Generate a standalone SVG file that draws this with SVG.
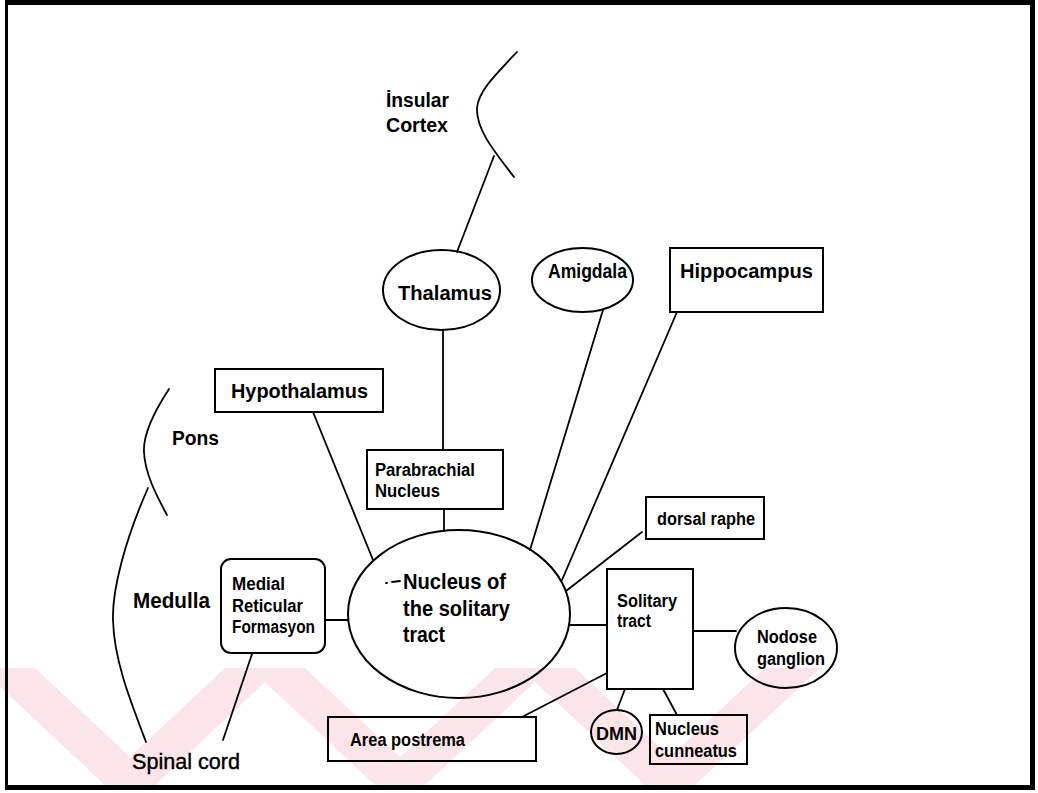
<svg xmlns="http://www.w3.org/2000/svg" width="1038" height="793" viewBox="0 0 1038 793">
<defs>
<style>
.bg{fill:#ffffff}
.wm{fill:#fce5e8}
.shape{fill:none;stroke:#000;stroke-width:2}
.line{fill:none;stroke:#000;stroke-width:1.8;stroke-linecap:round}
.frame{fill:#000}
text{font-family:"Liberation Sans",Arial,sans-serif;fill:#000}
.big{font-size:20px;font-weight:bold}
.nts{font-size:21.5px;font-weight:bold}
.small{font-size:17.5px;font-weight:bold}
.reg{font-size:21.5px;font-weight:normal;stroke:#000;stroke-width:0.4}
</style>
</defs>
<rect class="bg" x="0" y="0" width="1038" height="793"/>
<g id="watermark">
<polygon class="wm" points="-20,668 35,668 130,757 225,668 280,668 155,785 105,785"/>
<polygon class="wm" points="250,668 305,668 400,757 495,668 550,668 425,785 375,785"/>
<polygon class="wm" points="520,668 575,668 670,757 765,668 820,668 695,785 645,785"/>
</g>
<g id="connectors">
<path class="line" d="M457,252 L494,156"/>
<path class="line" d="M443,331 L443,450"/>
<path class="line" d="M444,509 L444,531"/>
<path class="line" d="M313,412 L373,560"/>
<path class="line" d="M603,310 L530,550"/>
<path class="line" d="M677,312 L562,580"/>
<path class="line" d="M642,532 L566,591"/>
<path class="line" d="M570,625 L607,625"/>
<path class="line" d="M693,631 L736,631"/>
<path class="line" d="M625,689 L617,710"/>
<path class="line" d="M663,689 L677,715"/>
<path class="line" d="M607,673 L522,717"/>
<path class="line" d="M325,620 L348,620"/>
<path class="line" d="M252,654 L223,740"/>
</g>
<g id="insular-cortex">
<path class="line" d="M517,52 C495,75 478,92 477,108 C476,130 495,152 514,177"/>
<text class="big" x="386" y="107" textLength="63" lengthAdjust="spacingAndGlyphs">İnsular</text>
<text class="big" x="386" y="132" textLength="62" lengthAdjust="spacingAndGlyphs">Cortex</text>
</g>
<g id="pons">
<path class="line" d="M169,389 C152,415 143,435 144,452 C145,475 158,498 167,515"/>
<text class="big" x="172" y="445" textLength="47" lengthAdjust="spacingAndGlyphs">Pons</text>
</g>
<g id="medulla">
<path class="line" d="M148,488 C125,540 112,590 113,620 C114,660 130,700 146,742"/>
<text class="nts" x="133" y="608" textLength="77" lengthAdjust="spacingAndGlyphs">Medulla</text>
</g>
<g id="spinal-cord">
<text class="reg" x="132" y="769" textLength="108" lengthAdjust="spacingAndGlyphs">Spinal cord</text>
</g>
<g id="thalamus">
<ellipse class="shape" cx="441.5" cy="290" rx="58.5" ry="40"/>
<text class="big" x="398" y="300" textLength="94" lengthAdjust="spacingAndGlyphs">Thalamus</text>
</g>
<g id="amigdala">
<ellipse class="shape" cx="582.5" cy="280" rx="50.5" ry="32"/>
<text class="big" x="548" y="278" textLength="79" lengthAdjust="spacingAndGlyphs">Amigdala</text>
</g>
<g id="hippocampus">
<rect class="shape" x="670" y="248" width="153" height="64"/>
<text class="big" x="680" y="278" textLength="133" lengthAdjust="spacingAndGlyphs">Hippocampus</text>
</g>
<g id="hypothalamus">
<rect class="shape" x="215" y="369" width="168" height="43"/>
<text class="big" x="231" y="398" textLength="137" lengthAdjust="spacingAndGlyphs">Hypothalamus</text>
</g>
<g id="parabrachial">
<rect class="shape" x="367" y="450" width="136" height="59"/>
<text class="small" x="375" y="476" textLength="100" lengthAdjust="spacingAndGlyphs">Parabrachial</text>
<text class="small" x="375" y="497" textLength="65" lengthAdjust="spacingAndGlyphs">Nucleus</text>
</g>
<g id="dorsal-raphe">
<rect class="shape" x="646" y="497" width="118" height="42"/>
<text class="small" x="657" y="525" textLength="98" lengthAdjust="spacingAndGlyphs">dorsal raphe</text>
</g>
<g id="medial-reticular-formasyon">
<rect class="shape" x="221" y="559" width="104" height="94" rx="10" ry="10"/>
<text class="small" x="232" y="590" textLength="53" lengthAdjust="spacingAndGlyphs">Medial</text>
<text class="small" x="232" y="612" textLength="71" lengthAdjust="spacingAndGlyphs">Reticular</text>
<text class="small" x="232" y="633" textLength="83" lengthAdjust="spacingAndGlyphs">Formasyon</text>
</g>
<g id="nucleus-solitary-tract">
<ellipse class="shape" cx="459" cy="614" rx="111" ry="84"/>
<path class="line" d="M386,583 L387,583 M392,582 L400,581" stroke-width="1.2"/>
<text class="nts" x="403" y="589" textLength="103" lengthAdjust="spacingAndGlyphs">Nucleus of</text>
<text class="nts" x="403" y="616" textLength="107" lengthAdjust="spacingAndGlyphs">the solitary</text>
<text class="nts" x="403" y="642" textLength="42" lengthAdjust="spacingAndGlyphs">tract</text>
</g>
<g id="solitary-tract">
<rect class="shape" x="607" y="569" width="86" height="120"/>
<text class="small" x="617" y="607" textLength="60" lengthAdjust="spacingAndGlyphs">Solitary</text>
<text class="small" x="617" y="627" textLength="34" lengthAdjust="spacingAndGlyphs">tract</text>
</g>
<g id="nodose-ganglion">
<ellipse class="shape" cx="786" cy="648" rx="51" ry="40"/>
<text class="small" x="757" y="643" textLength="60" lengthAdjust="spacingAndGlyphs">Nodose</text>
<text class="small" x="757" y="665" textLength="68" lengthAdjust="spacingAndGlyphs">ganglion</text>
</g>
<g id="dmn">
<ellipse class="shape" cx="616.5" cy="732" rx="25.5" ry="22"/>
<text class="small" x="596" y="740" textLength="41" lengthAdjust="spacingAndGlyphs" style="font-size:18px">DMN</text>
</g>
<g id="nucleus-cunneatus">
<rect class="shape" x="650" y="715" width="97" height="49"/>
<text class="small" x="655" y="735" textLength="64" lengthAdjust="spacingAndGlyphs">Nucleus</text>
<text class="small" x="655" y="757" textLength="82" lengthAdjust="spacingAndGlyphs">cunneatus</text>
</g>
<g id="area-postrema">
<rect class="shape" x="328" y="717" width="208" height="44"/>
<text class="small" x="350" y="746" textLength="115" lengthAdjust="spacingAndGlyphs">Area postrema</text>
</g>
<g id="frame">
<rect class="frame" x="5" y="0" width="1030" height="5"/>
<rect class="frame" x="5" y="0" width="3" height="790"/>
<rect class="frame" x="1030" y="0" width="5" height="790"/>
<rect class="frame" x="5" y="785" width="1030" height="5"/>
</g>
</svg>
